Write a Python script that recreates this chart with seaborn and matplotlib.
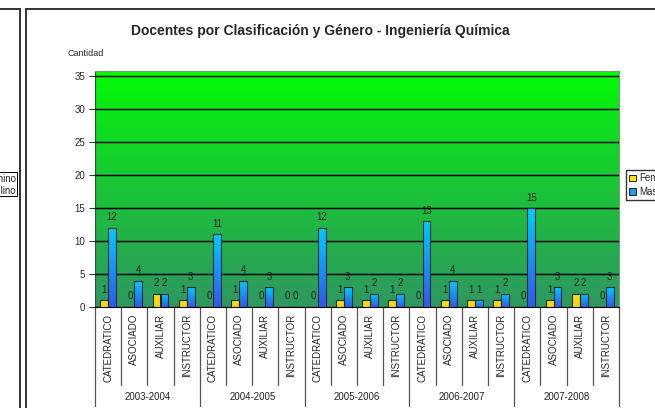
import matplotlib
matplotlib.use("Agg")
import matplotlib.pyplot as plt
import numpy as np
import pandas as pd
import seaborn as sns
from matplotlib.lines import Line2D
from matplotlib.patches import Patch, Rectangle
from matplotlib.colors import LinearSegmentedColormap

# Data
periodos = ["2003-2004", "2004-2005", "2005-2006", "2006-2007", "2007-2008"]
clasificaciones = ["CATEDRATICO", "ASOCIADO", "AUXILIAR", "INSTRUCTOR"]
femenino = [1, 0, 2, 1,
            0, 1, 0, 0,
            0, 1, 1, 1,
            0, 1, 1, 1,
            0, 1, 2, 0]
masculino = [12, 4, 2, 3,
             11, 4, 3, 0,
             12, 3, 2, 2,
             13, 4, 1, 2,
             15, 3, 2, 3]

slots = [f"{p}|{c}" for p in periodos for c in clasificaciones]
df = pd.DataFrame({
    "slot": slots * 2,
    "Cantidad": femenino + masculino,
    "Genero": ["Femenino"] * len(slots) + ["Masculino"] * len(slots),
})

sns.set_style("white")
plt.rcParams["font.family"] = ["Liberation Sans", "DejaVu Sans"]

W, H = 655, 408
fig = plt.figure(figsize=(W / 100, H / 100), dpi=100)
ax = fig.add_axes([95 / W, 1 - 307 / H, (619 - 95) / W, (307 - 71) / H])

ymax = 35.8

# green gradient background of the plot area
t = np.linspace(0, 1, 256)[:, None]
top_c = np.array([0, 255, 0]) / 255
bot_c = np.array([46, 152, 96]) / 255
bg = top_c * (1 - t[..., None]) ** 1.0 + bot_c * t[..., None]
bg = top_c + (bot_c - top_c) * (t ** 0.8)[..., None]
ax.imshow(bg, extent=[-0.5, 19.5, 0, ymax], aspect="auto", zorder=0)

sns.barplot(data=df, x="slot", y="Cantidad", hue="Genero", order=slots,
            palette={"Femenino": "#FFE000", "Masculino": "#1E9BF5"},
            width=0.6, edgecolor="#1a2a40", linewidth=0.8, legend=False,
            zorder=3, ax=ax)

# gradient fill inside each bar
cm_f = LinearSegmentedColormap.from_list("f", ["#FFD400", "#FFE400"])
cm_m = LinearSegmentedColormap.from_list("m", ["#3458E8", "#00CCFF"])
for cont, cmap in zip(ax.containers, [cm_f, cm_m]):
    for bar in cont:
        h = bar.get_height()
        if h <= 0:
            continue
        x0 = bar.get_x()
        w = bar.get_width()
        im = ax.imshow(np.linspace(0, 1, 64)[:, None], cmap=cmap, origin="lower",
                       extent=[x0, x0 + w, 0, h], aspect="auto", zorder=3.5)
        im.set_clip_path(bar)
        bar.set_facecolor("none")
        bar.set_zorder(4)
    ax.bar_label(cont, padding=4, fontsize=7, color="#222222", zorder=5)

ax.set_xlim(-0.5, len(slots) - 0.5)
ax.set_ylim(0, ymax)
ax.set_yticks(range(0, 36, 5))
ax.yaxis.grid(True, color="black", linewidth=0.9, zorder=1)
ax.set_axisbelow(False)
for yv in range(5, 36, 5):
    ax.axhline(yv, color="black", linewidth=0.9, zorder=1)

ax.set_xlabel("")
ax.set_ylabel("")
ax.set_xticks(range(len(slots)))
ax.set_xticklabels(clasificaciones * len(periodos), rotation=90, fontsize=7,
                   va="top", ha="center")
ax.tick_params(axis="x", length=0, pad=5)
ax.tick_params(axis="y", left=True, length=4, width=0.8, labelsize=7,
               color="#333333", pad=3)
for s in ["top", "right"]:
    ax.spines[s].set_color("#7a9a7a")
    ax.spines[s].set_linewidth(0.8)
ax.spines["left"].set_color("#444444")
ax.spines["bottom"].set_color("black")

# category separators and period labels below the axis
trans = ax.get_xaxis_transform()
for i in range(len(slots) + 1):
    x = i - 0.5
    bottom = -0.42 if i % 4 == 0 else -0.33
    ax.plot([x, x], [0, bottom], transform=trans, color="#555555",
            linewidth=0.9, clip_on=False)
for g, p in enumerate(periodos):
    ax.text(g * 4 + 1.5, -0.38, p, transform=trans, ha="center", va="center",
            fontsize=7, color="#222222")

fig.text(320 / W, 1 - 31 / H,
         "Docentes por Clasificación y Género - Ingeniería Química",
         ha="center", va="center", fontsize=10, fontweight="bold")
fig.text(68 / W, 1 - 53 / H, "Cantidad", ha="left", va="center", fontsize=6.5)

# legend (cut at the right edge as in the reference)
handles = [Patch(facecolor="#FFE000", edgecolor="black", linewidth=0.6),
           Patch(facecolor="#1E9BF5", edgecolor="black", linewidth=0.6)]
fig.legend(handles, ["Femenino", "Masculino"], loc="upper left",
           bbox_to_anchor=(626 / W, 1 - 170 / H), fontsize=7, frameon=True,
           fancybox=False, edgecolor="black", handlelength=0.7,
           handleheight=0.7, handletextpad=0.3, borderpad=0.35,
           labelspacing=0.35, borderaxespad=0)

# neighbouring chart fragment on the left and chart frames
fig.text(16 / W, 1 - 179 / H, "Femenino", ha="right", va="center", fontsize=7)
fig.text(16 / W, 1 - 191 / H, "Masculino", ha="right", va="center", fontsize=7)
fig.patches.append(Rectangle((-40 / W, 1 - 196 / H), 57 / W, 24 / H,
                             transform=fig.transFigure, fill=False,
                             edgecolor="black", linewidth=0.7))
frame_c = "#333333"
fig.lines.append(Line2D([0, 20 / W], [1 - 9 / H, 1 - 9 / H],
                        transform=fig.transFigure, color=frame_c, linewidth=1.4))
fig.lines.append(Line2D([20 / W, 20 / W], [0, 1 - 9 / H],
                        transform=fig.transFigure, color=frame_c, linewidth=1.4))
fig.lines.append(Line2D([26 / W, 1], [1 - 9 / H, 1 - 9 / H],
                        transform=fig.transFigure, color=frame_c, linewidth=1.4))
fig.lines.append(Line2D([26 / W, 26 / W], [0, 1 - 9 / H],
                        transform=fig.transFigure, color=frame_c, linewidth=1.4))

fig.savefig("out.png", dpi=100)
